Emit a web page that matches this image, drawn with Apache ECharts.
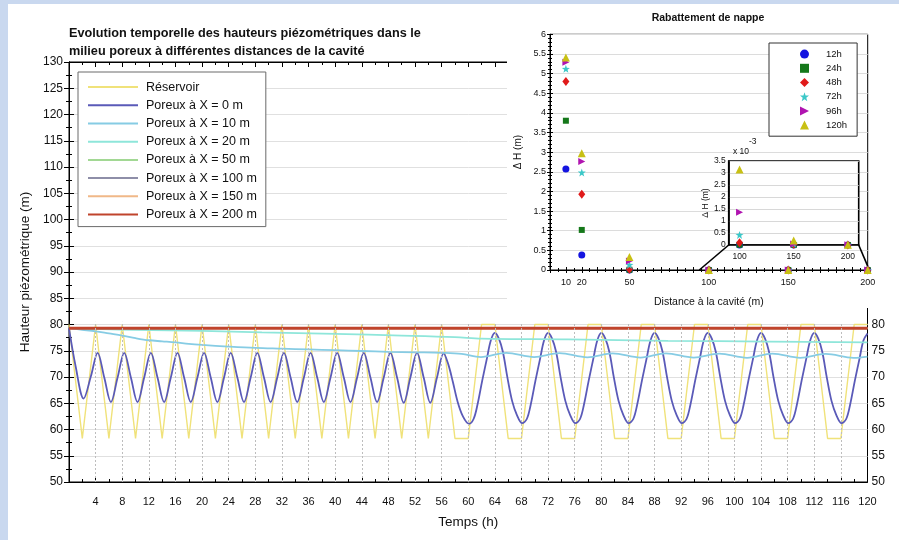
<!DOCTYPE html>
<html><head><meta charset="utf-8">
<script src="https://cdn.jsdelivr.net/npm/echarts@6/dist/echarts.min.js"></script>
<style>html,body{margin:0;padding:0;background:#fff}#c{width:899px;height:540px}</style>
</head><body><div id="c"></div>
<script>
const FONT = '"Liberation Sans", Arial, sans-serif';

// ---------- main chart: hour vs piezometric head (m) ----------
const reservoir = [[0,80],[2,58.3],[4,80],[6,58.3],[8,80],[10,58.3],[12,80],[14,58.3],[16,80],[18,58.3],[20,80],[22,58.3],[24,80],[26,58.3],[28,80],[30,58.3],[32,80],[34,58.3],[36,80],[38,58.3],[40,80],[42,58.3],[44,80],[46,58.3],[48,80],[50,58.3],[52,80],[54,58.3],[56,80],[58,58.3],[60,58.3],[62,80],[64,80],[66,58.3],[68,58.3],[70,80],[72,80],[74,58.3],[76,58.3],[78,80],[80,80],[82,58.3],[84,58.3],[86,80],[88,80],[90,58.3],[92,58.3],[94,80],[96,80],[98,58.3],[100,58.3],[102,80],[104,80],[106,58.3],[108,58.3],[110,80],[112,80],[114,58.3],[116,58.3],[118,80],[120,80]];

const poreuxX0 = [[0,79.3],[1.0,72.0],[2.2,65.9],[3.3,70.2],
[4.3,74.6],[5.3,69.9],[6.3,65.2],[7.3,69.9],
[8.3,74.6],[9.3,69.9],[10.3,65.2],[11.3,69.9],
[12.3,74.6],[13.3,69.9],[14.3,65.2],[15.3,69.9],
[16.3,74.6],[17.3,69.9],[18.3,65.2],[19.3,69.9],
[20.3,74.6],[21.3,69.9],[22.3,65.2],[23.3,69.9],
[24.3,74.6],[25.3,69.9],[26.3,65.2],[27.3,69.9],
[28.3,74.6],[29.3,69.9],[30.3,65.2],[31.3,69.9],
[32.3,74.6],[33.3,69.9],[34.3,65.2],[35.3,69.9],
[36.3,74.6],[37.3,69.9],[38.3,65.2],[39.3,69.9],
[40.3,74.6],[41.3,69.9],[42.3,65.2],[43.3,69.9],
[44.3,74.6],[45.3,69.9],[46.3,65.2],[47.3,69.9],
[48.3,74.6],[49.3,69.9],[50.3,65.1],[51.3,69.9],
[52.3,74.6],[53.3,69.9],[54.3,65.1],[55.3,69.9],
[56.3,74.5],[57.0,72.4],[57.7,69.0],[58.4,65.3],[59.2,62.5],
[60.1,61.1],[60.8,62.0],[61.4,64.8],[62.1,69.3],[62.8,73.5],[63.4,77.0],[64.0,78.4],[64.6,77.3],[65.2,74.8],[65.9,69.8],[66.6,65.4],[67.3,62.8],
[68.1,61.2],[68.8,62.0],[69.4,64.8],[70.1,69.3],[70.8,73.5],[71.4,77.0],[72.0,78.4],[72.6,77.3],[73.2,74.8],[73.9,69.8],[74.6,65.4],[75.3,62.8],
[76.1,61.2],[76.8,62.0],[77.4,64.8],[78.1,69.3],[78.8,73.5],[79.4,77.0],[80.0,78.4],[80.6,77.3],[81.2,74.8],[81.9,69.8],[82.6,65.4],[83.3,62.8],
[84.1,61.2],[84.8,62.0],[85.4,64.8],[86.1,69.3],[86.8,73.5],[87.4,77.0],[88.0,78.4],[88.6,77.3],[89.2,74.8],[89.9,69.8],[90.6,65.4],[91.3,62.8],
[92.1,61.2],[92.8,62.0],[93.4,64.8],[94.1,69.3],[94.8,73.5],[95.4,77.0],[96.0,78.4],[96.6,77.3],[97.2,74.8],[97.9,69.8],[98.6,65.4],[99.3,62.8],
[100.1,61.2],[100.8,62.0],[101.4,64.8],[102.1,69.3],[102.8,73.5],[103.4,77.0],[104.0,78.4],[104.6,77.3],[105.2,74.8],[105.9,69.8],[106.6,65.4],[107.3,62.8],
[108.1,61.2],[108.8,62.0],[109.4,64.8],[110.1,69.3],[110.8,73.5],[111.4,77.0],[112.0,78.4],[112.6,77.3],[113.2,74.8],[113.9,69.8],[114.6,65.4],[115.3,62.8],
[116.1,61.2],[116.8,62.0],[117.4,64.8],[118.1,69.3],[118.8,73.5],[119.4,77.0],[120.0,78.3]];

const poreuxX10 = [[0,79.3],[2,79.0],[4,78.7],[6,78.3],[8,77.9],[10,77.4],[12,77.0],[14,76.8],[16,76.6],[18,76.3],[20,76.1],[24,75.8],[28,75.55],[32,75.4],[36,75.25],[40,75.1],[44,74.95],[48,74.8],[52,74.7],[56,74.6],[59,74.4],[61.9,73.8],[65.7,74.6],[69.9,73.8],[73.7,74.55],[77.9,73.75],[81.7,74.5],[85.9,73.7],[89.7,74.5],[93.9,73.7],[97.7,74.45],[101.9,73.65],[105.7,74.45],[109.9,73.65],[113.7,74.4],[117.9,73.65],[120,73.9]];

const poreuxX20 = [[0,79.3],[5,79.1],[10,79.0],[20,78.8],[29,78.5],[40,78.2],[50,77.9],[58,77.6],[62,77.3],[75,77.15],[90,76.9],[105,76.75],[120,76.6]];
const poreuxX50 = [[0,79.3],[120,79.25]];
const poreuxX100 = [[0,79.3],[120,79.3]];
const poreuxX150 = [[0,79.35],[120,79.35]];
const poreuxX200 = [[0,79.3],[120,79.3]];

// hours carrying a dotted vertical guide (lower band only)
const guideHours = [4,8,12,16,20,24,28,32,36,40,44,48,52,56,60,64,68,72,76,80,84,88,92,96,100,104,108,112,116];
const guideRange = [50, 80.5];

const mainNames = ['Réservoir','Poreux à X = 0 m','Poreux à X = 10 m','Poreux à X = 20 m','Poreux à X = 50 m','Poreux à X = 100 m','Poreux à X = 150 m','Poreux à X = 200 m'];
const mainData = [reservoir, poreuxX0, poreuxX10, poreuxX20, poreuxX50, poreuxX100, poreuxX150, poreuxX200];
const mainColors = ['#f0e27a','#5a5ab8','#86cce4','#8ee6da','#a2d894','#8e8ea8','#f0b888','#c0442c'];
const mainWidths = [1.4,1.8,1.8,1.8,1.4,1.4,1.6,3];
const mainSmooth = [false,true,true,true,false,false,false,false];

// ---------- inset: drawdown vs distance ----------
const distances = [10, 20, 50, 100, 150, 200];
const dH12h  = [2.57, 0.38, 0.002, 0.00000, 0.00000, 0.00000];
const dH24h  = [3.80, 1.02, 0.006, 0.00001, 0.00000, 0.00000];
const dH48h  = [4.80, 1.93, 0.020, 0.00009, 0.00003, 0.00000];
const dH72h  = [5.12, 2.48, 0.130, 0.00042, 0.00005, 0.00001];
const dH96h  = [5.29, 2.76, 0.230, 0.00136, 0.00004, 0.00001];
const dH120h = [5.41, 2.97, 0.330, 0.00315, 0.00019, 0.00001];
const insetNames = ['12h','24h','48h','72h','96h','120h'];
const insetData = [dH12h, dH24h, dH48h, dH72h, dH96h, dH120h];
const insetColors = ['#1414e0','#15781a','#e01a1a','#3cc8c8','#b014b0','#c8c014'];
const insetSymbols = ['circle','rect','diamond',
  'path://M5,0L6.2,3.6L10,3.8L7,6.1L8.1,10L5,7.7L1.9,10L3,6.1L0,3.8L3.8,3.6Z',
  'path://M0,0L10,5L0,10Z','triangle'];
const insetSizes = [7,6,[7,9],8,7,8];
const insetXLabels = [10, 20, 50, 100, 150, 200];
const zoomXLabels = [100, 150, 200];

const chart = echarts.init(document.getElementById('c'), null, {renderer:'canvas'});

const series = [];
series.push({name:'guides', type:'line', xAxisIndex:0, yAxisIndex:0, data:[], z:1, silent:true,
  markLine:{silent:true, symbol:'none', label:{show:false},
    lineStyle:{color:'#bdbdbd', type:[2,2], width:1},
    data: guideHours.map(h=>[{coord:[h, guideRange[0]]},{coord:[h, guideRange[1]]}])}});
mainNames.forEach((n,i)=>{
  series.push({name:n, type:'line', xAxisIndex:0, yAxisIndex:0, data: mainData[i],
    showSymbol:false, symbol:'none', smooth: mainSmooth[i] ? 0.35 : false,
    lineStyle:{color: mainColors[i], width: mainWidths[i]}, itemStyle:{color: mainColors[i]},
    z: 2, silent:true});
});
insetNames.forEach((n,i)=>{
  series.push({name:n, type:'scatter', xAxisIndex:2, yAxisIndex:2,
    data: distances.map((d,j)=>[d, insetData[i][j]]),
    symbol: insetSymbols[i], symbolSize: insetSizes[i], itemStyle:{color: insetColors[i], opacity:1}, z: 12});
  series.push({name:n, type:'scatter', xAxisIndex:4, yAxisIndex:4,
    data: distances.filter(d=>d>=100).map(d=>[d, insetData[i][distances.indexOf(d)]*1000]),
    symbol: insetSymbols[i], symbolSize: insetSizes[i], itemStyle:{color: insetColors[i], opacity:1}, z: 22});
});

const axLine = {show:true, lineStyle:{color:'#000', width:1}};
const lbl = (size)=>({color:'#111', fontFamily: FONT, fontSize:size});

const option = {
  animation:false,
  backgroundColor:'#fff',
  textStyle:{fontFamily: FONT},
  title:{text:'Evolution temporelle des hauteurs piézométriques dans le\nmilieu poreux à différentes distances de la cavité',
    left:64, top:20, textStyle:{fontSize:12.7, fontWeight:'bold', color:'#111', lineHeight:17.4, fontFamily: FONT}},
  legend:[
    {data: mainNames, orient:'vertical', left:78, top:72, icon:'rect', itemWidth:50, itemHeight:2,
     itemGap:0, padding:[6,9,3,10], backgroundColor:'#fff', borderColor:'#6a6a6a', borderWidth:1,
     textStyle:{fontSize:12.5, color:'#111', lineHeight:18.2, fontFamily: FONT, padding:[0,0,0,3]}, selectedMode:false},
    {data: insetNames, orient:'vertical', left:769, top:43, itemWidth:9, itemHeight:9,
     itemGap:0, padding:[4,10,4,31], backgroundColor:'#fff', borderColor:'#333', borderWidth:1, z:30,
     textStyle:{fontSize:9.5, color:'#111', lineHeight:14.2, fontFamily: FONT, padding:[0,0,0,12]}, selectedMode:false}
  ],
  grid:[
    {left:69, right:31.5, top:62, bottom:58, show:true, borderColor:'#000', borderWidth:1, backgroundColor:'transparent'},
    {left:550, right:31.3, top:34.3, bottom:270, show:true, borderColor:'#000', borderWidth:1, backgroundColor:'#fff', z:8},
    {left:728.7, width:130, top:161, height:84, show:true, borderColor:'#000', borderWidth:1.6, backgroundColor:'#fff', z:18}
  ],
  xAxis:[
    {type:'value', gridIndex:0, min:0, max:120, interval:4, position:'bottom',
     axisLine:axLine, axisTick:{show:true, inside:true, length:5, lineStyle:{color:'#000'}},
     minorTick:{show:true, splitNumber:2, length:3, lineStyle:{color:'#000'}},
     axisLabel:Object.assign(lbl(11),{margin:14, formatter:v=> v===0?'':String(v)}),
     splitLine:{show:false},
     name:'Temps (h)', nameLocation:'middle', nameGap:33, nameTextStyle:{fontSize:13.5, color:'#111', fontFamily: FONT}},
    {type:'value', gridIndex:0, min:0, max:120, interval:4, position:'top',
     axisLine:axLine, axisTick:{show:true, inside:true, length:5, lineStyle:{color:'#000'}},
     minorTick:{show:true, splitNumber:2, length:3, lineStyle:{color:'#000'}},
     axisLabel:{show:false}, splitLine:{show:false}},
    {type:'value', gridIndex:1, min:0, max:200, interval:10, position:'bottom', z:9,
     axisLine:axLine, axisTick:{show:true, inside:true, length:3, lineStyle:{color:'#000'}},
     minorTick:{show:true, splitNumber:2, length:2, lineStyle:{color:'#000'}},
     axisLabel:Object.assign(lbl(9),{margin:8, customValues: insetXLabels}),
     splitLine:{show:false},
     name:'Distance à la cavité (m)', nameLocation:'middle', nameGap:27, nameTextStyle:{fontSize:10.5, color:'#111', fontFamily: FONT}},
    {type:'value', gridIndex:1, min:0, max:200, interval:10, position:'top', z:9,
     axisLine:axLine, axisTick:{show:true, inside:true, length:3, lineStyle:{color:'#000'}},
     minorTick:{show:true, splitNumber:2, length:2, lineStyle:{color:'#000'}},
     axisLabel:{show:false}, splitLine:{show:false}},
    {type:'value', gridIndex:2, min:90, max:210, position:'bottom', z:19,
     axisLine:{show:true, lineStyle:{color:'#000', width:1.6}}, axisTick:{show:false},
     axisLabel:Object.assign(lbl(8.5),{margin:7, customValues: zoomXLabels}), splitLine:{show:false}}
  ],
  yAxis:[
    {type:'value', gridIndex:0, min:50, max:130, interval:5, position:'left',
     axisLine:axLine, axisTick:{show:true, inside:true, length:5, lineStyle:{color:'#000'}},
     minorTick:{show:true, splitNumber:2, length:3, lineStyle:{color:'#000'}},
     axisLabel:Object.assign(lbl(12),{margin:6}),
     splitLine:{show:true, lineStyle:{color:'#e0e0e0', width:1}},
     name:'Hauteur piézométrique (m)', nameLocation:'middle', nameGap:33, nameTextStyle:{fontSize:13.5, color:'#111', fontFamily: FONT}},
    {type:'value', gridIndex:0, min:50, max:130, interval:5, position:'right',
     axisLine:axLine, axisTick:{show:true, inside:true, length:5, lineStyle:{color:'#000'}},
     minorTick:{show:true, splitNumber:2, length:3, lineStyle:{color:'#000'}},
     axisLabel:Object.assign(lbl(12),{margin:4, formatter:v=> v<=80?String(v):''}),
     splitLine:{show:false}},
    {type:'value', gridIndex:1, min:0, max:6, interval:0.5, position:'left', z:9,
     axisLine:axLine, axisTick:{show:true, inside:true, length:3, lineStyle:{color:'#000'}},
     minorTick:{show:true, splitNumber:5, length:2, lineStyle:{color:'#000'}},
     axisLabel:Object.assign(lbl(9),{margin:4}),
     splitLine:{show:true, lineStyle:{color:'#dcdcdc'}},
     name:'Δ H (m)', nameLocation:'middle', nameGap:27, nameTextStyle:{fontSize:10, color:'#111', fontFamily: FONT}},
    {type:'value', gridIndex:1, min:0, max:6, interval:0.5, position:'right', z:9,
     axisLine:axLine, axisTick:{show:true, inside:true, length:3, lineStyle:{color:'#000'}},
     minorTick:{show:true, splitNumber:5, length:2, lineStyle:{color:'#000'}},
     axisLabel:{show:false}, splitLine:{show:false}},
    {type:'value', gridIndex:2, min:0, max:3.5, interval:0.5, position:'left', z:19,
     axisLine:{show:true, lineStyle:{color:'#000', width:1.6}}, axisTick:{show:false},
     axisLabel:Object.assign(lbl(8.5),{margin:3}),
     splitLine:{show:true, lineStyle:{color:'#d8d8d8'}},
     name:'Δ H (m)', nameLocation:'middle', nameGap:19, nameTextStyle:{fontSize:8.5, color:'#111', fontFamily: FONT}}
  ],
  graphic:{elements:[
    {id:'cover', type:'rect', shape:{x:507, y:0, width:392, height:308}, style:{fill:'#fff'}, z:3, silent:true},
    {id:'ititle', type:'text', x:708, y:18, z:40, style:{text:'Rabattement de nappe', fill:'#111', font:'bold 10.5px '+FONT, textAlign:'center', textVerticalAlign:'middle'}},
    {id:'x10', type:'text', x:733, y:152, z:40, style:{text:'x 10', fill:'#111', font:'8.5px '+FONT, textAlign:'left', textVerticalAlign:'middle'}},
    {id:'exp', type:'text', x:749, y:142, z:40, style:{text:'-3', fill:'#111', font:'8.5px '+FONT, textAlign:'left', textVerticalAlign:'middle'}},
    {id:'bandL', type:'rect', shape:{x:0, y:0, width:8, height:540}, style:{fill:'#c9d8ef'}, z:100, silent:true},
    {id:'bandT', type:'rect', shape:{x:0, y:0, width:899, height:4}, style:{fill:'#c9d8ef'}, z:100, silent:true}
  ]},
  series: series
};
chart.setOption(option);

const a = chart.convertToPixel({gridIndex:2}, [90, 0]);
const b = chart.convertToPixel({gridIndex:1}, [94, 0]);
const c = chart.convertToPixel({gridIndex:2}, [210, 0]);
const d = chart.convertToPixel({gridIndex:1}, [200, 0.1]);
chart.setOption({graphic:{elements:[
  {id:'zl', type:'line', shape:{x1:a[0], y1:a[1], x2:b[0], y2:b[1]}, style:{stroke:'#000', lineWidth:1.6}, z:20},
  {id:'zr', type:'line', shape:{x1:c[0], y1:c[1], x2:d[0], y2:d[1]}, style:{stroke:'#000', lineWidth:1.6}, z:20}
]}});
</script></body></html>
